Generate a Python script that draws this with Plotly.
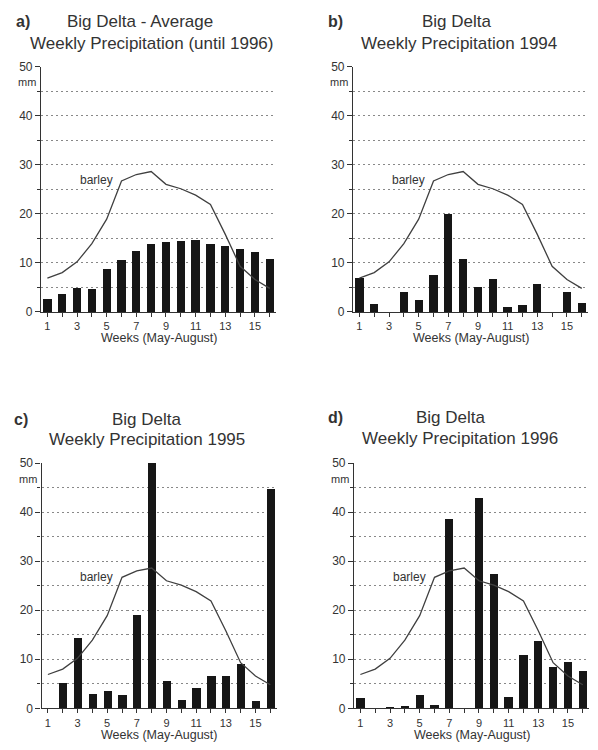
import plotly.graph_objects as go

weeks = list(range(1, 17))
week_labels = [str(w) if w % 2 == 1 else "" for w in weeks]
y_ticks = [0, 10, 20, 30, 40, 50]
y_minor = [5, 15, 25, 35, 45]

barley = [6.9, 8.0, 10.2, 13.9, 18.9, 26.7, 28.0, 28.6, 26.0, 25.1, 23.8, 21.9, 15.8, 9.3, 6.6, 4.8]

precip_avg = [2.8, 3.8, 4.9, 4.7, 8.9, 10.7, 12.5, 14.0, 14.3, 14.5, 14.8, 14.0, 13.6, 12.9, 12.3, 10.9]
precip_1994 = [7.1, 1.7, 0, 4.1, 2.5, 7.6, 20.0, 10.9, 5.2, 6.7, 1.0, 1.4, 5.7, 0, 4.2, 1.9]
precip_1995 = [0, 5.1, 14.3, 3.0, 3.6, 2.7, 19.1, 50.0, 5.5, 1.7, 4.1, 6.5, 6.6, 9.1, 1.5, 44.7]
precip_1996 = [2.2, 0, 0.2, 0.4, 2.7, 0.7, 38.6, 0, 42.9, 27.3, 2.3, 10.8, 13.7, 8.5, 9.4, 7.7]

panel_letters = ["a)", "b)", "c)", "d)"]
title_line1 = ["Big Delta - Average", "Big Delta", "Big Delta", "Big Delta"]
title_line2 = ["Weekly Precipitation (until 1996)", "Weekly Precipitation 1994",
               "Weekly Precipitation 1995", "Weekly Precipitation 1996"]
series = [precip_avg, precip_1994, precip_1995, precip_1996]

W, H = 598, 750
def px(x): return x / W
def py(y): return 1 - y / H

FONT = "Liberation Sans, Arial, sans-serif"
TXT = "#333333"

# pixel layout: (left, right, top(50mm), bottom(0mm))
boxes = [(41, 276, 60.7, 310.7), (353, 588, 60.7, 310.7),
         (41.5, 276.5, 464.7, 714.7), (354, 589, 464.7, 714.7)]
# title positions: letter x, line1 center x, line2 center x, line1 y, line2 y
title_pos = [(23, 140, 151, 15, 37), (335, 457, 459, 15, 37),
             (21, 147, 147, 420, 441), (335, 451, 460, 418, 440)]

fig = go.Figure()
annotations = []
layout = dict(width=W, height=H, margin=dict(l=0, r=0, t=0, b=0),
              paper_bgcolor="white", plot_bgcolor="white", showlegend=False,
              font=dict(family=FONT, color=TXT), bargap=0)

for i in range(4):
    s = "" if i == 0 else str(i + 1)
    xa, ya = "x" + s, "y" + s
    l, r, t, b = boxes[i]
    fig.add_trace(go.Bar(x=weeks, y=series[i], width=0.56, marker=dict(color="#161616", line=dict(width=0)),
                         xaxis=xa, yaxis=ya))
    fig.add_trace(go.Scatter(x=weeks, y=barley, mode="lines", line=dict(color="#404040", width=1.3),
                             xaxis=xa, yaxis=ya))
    layout["xaxis" + s] = dict(domain=[px(l), px(r)], anchor=ya, range=[0.57, 16.42],
                               tickvals=weeks, ticktext=week_labels, ticks="outside", ticklen=4,
                               tickcolor="#333", showline=True, linecolor="#333", linewidth=1.2,
                               showgrid=False, zeroline=False, tickfont=dict(size=11, color=TXT),
                               fixedrange=True)
    layout["yaxis" + s] = dict(domain=[py(b), py(t)], anchor=xa, range=[0, 50],
                               tickvals=y_ticks, ticks="outside", ticklen=5, tickcolor="#333",
                               showline=True, linecolor="#333", linewidth=1.2, zeroline=False,
                               showgrid=True, gridcolor="#888", griddash="2px,3px", gridwidth=1,
                               tickfont=dict(size=12, color=TXT), fixedrange=True,
                               minor=dict(tickvals=y_minor, showgrid=True, gridcolor="#888",
                                          griddash="2px,3px", gridwidth=1, ticks="outside",
                                          ticklen=3, tickcolor="#333"))
    lx, c1, c2, y1, y2 = title_pos[i]
    annotations.append(dict(text="<b>" + panel_letters[i] + "</b>", x=px(lx), y=py(y1), xref="paper",
                            yref="paper", showarrow=False, xanchor="center", yanchor="middle",
                            font=dict(size=16, color=TXT)))
    annotations.append(dict(text=title_line1[i], x=px(c1), y=py(y1), xref="paper", yref="paper",
                            showarrow=False, xanchor="center", yanchor="middle",
                            font=dict(size=17, color=TXT)))
    annotations.append(dict(text=title_line2[i], x=px(c2), y=py(y2), xref="paper", yref="paper",
                            showarrow=False, xanchor="center", yanchor="middle",
                            font=dict(size=17, color=TXT)))
    annotations.append(dict(text="mm", x=px(l - 3), y=py(t + 16), xref="paper", yref="paper",
                            showarrow=False, xanchor="right", yanchor="middle",
                            font=dict(size=11, color=TXT)))
    annotations.append(dict(text="Weeks (May-August)", x=px((l + r) / 2), y=py(b + 27),
                            xref="paper", yref="paper", showarrow=False, xanchor="center",
                            yanchor="middle", font=dict(size=12.5, color=TXT)))
    annotations.append(dict(text="barley", x=4.3, y=26.8, xref=xa, yref=ya, showarrow=False,
                            xanchor="center", yanchor="middle", font=dict(size=12, color=TXT)))

layout["annotations"] = annotations
fig.update_layout(**layout)
fig.write_html("out.html")
